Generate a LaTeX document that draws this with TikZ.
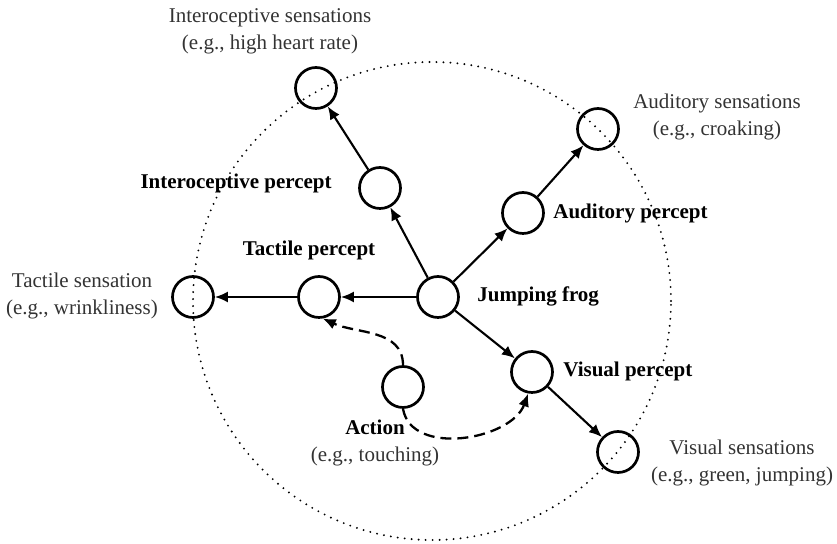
\documentclass[tikz,border=0pt]{standalone}
\usepackage{fontspec}
\setmainfont{Liberation Serif}
\usetikzlibrary{arrows.meta,positioning}
\tikzset{
  unit/.style={draw, circle, line width=1.35pt, minimum size=20.5pt, inner sep=0pt},
  link/.style={-{Latex[length=6.5pt,width=5.5pt]}, line width=1.05pt},
  actlink/.style={link, dash pattern=on 5.5pt off 3pt, line width=1.15pt},
  bound/.style={line width=1.05pt, dash pattern=on 0pt off 3.5pt, line cap=round},
  tag/.style={font=\fontsize{10.5}{13.5}\selectfont\bfseries, inner sep=0pt},
  sense/.style={font=\fontsize{10.5}{13.5}\selectfont, align=center, inner sep=0pt, text=black!80},
}
\begin{document}
\begin{tikzpicture}[x=0.5pt, y=-0.5pt]
  \useasboundingbox (0,0) rectangle (837,544);

  % outer boundary
  \draw[bound] (432,301) circle[radius=119.5pt];

  % units
  \node[unit] (frog)  at (438,297) {};
  \node[unit] (intp)  at (380,188) {};
  \node[unit] (ints)  at (316,88)  {};
  \node[unit] (audp)  at (523,213) {};
  \node[unit] (auds)  at (598,129) {};
  \node[unit] (tacp)  at (319,297) {};
  \node[unit] (tacs)  at (193,297) {};
  \node[unit] (visp)  at (532,372) {};
  \node[unit] (viss)  at (618,452) {};
  \node[unit] (act)   at (403,387) {};

  % labels
  \node[tag, anchor=west]  at (477,296) {Jumping frog};
  \node[tag, anchor=east]  at (332,183) {Interoceptive percept};
  \node[tag, anchor=west]  at (553,213) {Auditory percept};
  \node[tag]               at (309,250) {Tactile percept};
  \node[tag, anchor=west]  at (563,371) {Visual percept};

  \node[sense] at (270,31)  {Interoceptive sensations\\(e.g., high heart rate)};
  \node[sense] at (717,117) {Auditory sensations\\(e.g., croaking)};
  \node[sense] at (82,296)  {Tactile sensation\\(e.g., wrinkliness)};
  \node[sense] at (742,463) {Visual sensations\\(e.g., green, jumping)};
  \node[sense] at (375,443) {\textbf{\textcolor{black}{Action}}\\(e.g., touching)};

  % connections
  \draw[link] (frog) -- (intp);
  \draw[link] (intp) -- (ints);
  \draw[link] (frog) -- (audp);
  \draw[link] (audp) -- (auds);
  \draw[link] (frog) -- (tacp);
  \draw[link] (tacp) -- (tacs);
  \draw[link] (frog) -- (visp);
  \draw[link] (visp) -- (viss);

  \draw[actlink] (act.north) to[out=90, in=-25] (tacp.-80);
  \draw[actlink] (act.south) to[out=-80, in=-110] (visp.-100);
\end{tikzpicture}
\end{document}
